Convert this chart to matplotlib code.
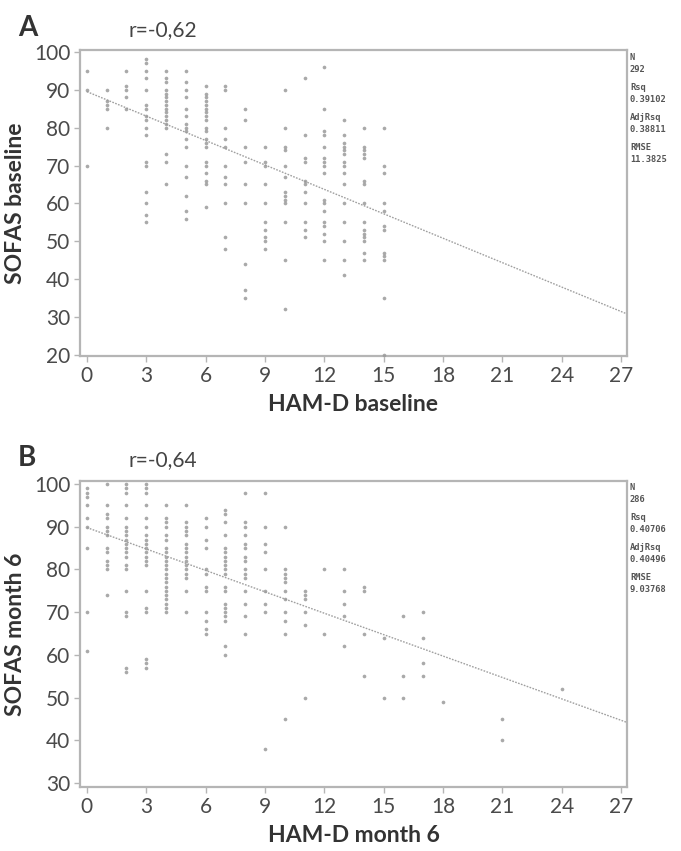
import matplotlib
matplotlib.use("Agg")
import matplotlib.pyplot as plt

# ---- Panel A: HAM-D baseline vs SOFAS baseline ----
ham_a = {
    0: [95, 90, 70],
    1: [90, 87, 86, 85, 80],
    2: [95, 91, 90, 88, 85],
    3: [98, 97, 95, 93, 90, 86, 85, 83, 82, 80, 78, 71, 70, 63, 60, 57, 55],
    4: [95, 93, 92, 90, 89, 88, 87, 86, 85, 84, 83, 82, 81, 80, 73, 71, 65],
    5: [95, 92, 90, 88, 85, 83, 81, 80, 79, 77, 75, 70, 67, 62, 58, 56],
    6: [91, 89, 88, 87, 86, 85, 84, 83, 82, 80, 79, 77, 76, 75, 71, 70, 68, 66, 65, 59],
    7: [91, 90, 80, 77, 75, 70, 67, 65, 60, 51, 48],
    8: [85, 82, 75, 71, 65, 60, 44, 37, 35],
    9: [75, 71, 70, 65, 60, 55, 53, 51, 50, 48],
    10: [90, 80, 75, 74, 70, 67, 63, 62, 61, 60, 55, 45, 32],
    11: [93, 78, 72, 71, 66, 65, 63, 60, 55, 53, 51],
    12: [96, 85, 79, 78, 75, 72, 71, 70, 68, 61, 60, 58, 55, 54, 52, 50, 45],
    13: [82, 78, 76, 75, 74, 73, 71, 70, 68, 65, 60, 55, 50, 45, 41],
    14: [80, 75, 74, 73, 72, 66, 65, 60, 55, 53, 52, 51, 50, 47, 45],
    15: [80, 70, 68, 60, 58, 54, 53, 47, 46, 45, 35, 20],
}
fit_a = (89.5, -2.15)            # intercept, slope
r_a = "r=-0,62"
stats_a = ["N", "292", "Rsq", "0.39102", "AdjRsq", "0.38811", "RMSE", "11.3825"]

# ---- Panel B: HAM-D month 6 vs SOFAS month 6 ----
ham_b = {
    0: [99, 98, 97, 95, 92, 90, 85, 70, 61],
    1: [100, 95, 93, 92, 90, 89, 88, 85, 84, 82, 81, 80, 74],
    2: [100, 99, 98, 95, 92, 90, 89, 88, 87, 86, 85, 84, 83, 81, 80, 75, 70, 69, 57, 56],
    3: [100, 99, 98, 95, 92, 90, 88, 87, 86, 85, 84, 83, 82, 81, 75, 71, 70, 59, 58, 57],
    4: [95, 92, 91, 90, 88, 87, 85, 84, 83, 82, 81, 80, 79, 78, 77, 76, 75, 74, 73, 72, 71, 70],
    5: [95, 91, 90, 89, 88, 86, 85, 84, 83, 82, 81, 80, 79, 78, 75, 70],
    6: [92, 90, 87, 85, 80, 79, 76, 75, 70, 68, 66, 65],
    7: [94, 93, 91, 88, 85, 84, 83, 82, 81, 80, 79, 76, 75, 72, 71, 70, 69, 68, 62, 60],
    8: [98, 91, 90, 88, 86, 85, 83, 82, 80, 79, 78, 75, 72, 69, 65],
    9: [98, 90, 86, 84, 80, 75, 72, 70, 38],
    10: [90, 80, 79, 78, 77, 75, 73, 70, 68, 65, 45],
    11: [75, 74, 73, 70, 67, 50],
    12: [80, 65],
    13: [80, 75, 72, 69, 62],
    14: [76, 75, 65, 55],
    15: [64, 50],
    16: [69, 55, 50],
    17: [70, 64, 58, 55],
    18: [49],
    21: [45, 40],
    24: [52],
}
fit_b = (89.8, -1.67)
r_b = "r=-0,64"
stats_b = ["N", "286", "Rsq", "0.40706", "AdjRsq", "0.40496", "RMSE", "9.03768"]

x_ticks = [0, 3, 6, 9, 12, 15, 18, 21, 24, 27]

plt.rcParams["font.family"] = ["Lato", "DejaVu Sans"]

W, H = 681, 851
fig = plt.figure(figsize=(W / 100, H / 100), dpi=100)
fig.patch.set_facecolor("white")


def px_rect(left, top, right, bottom):
    return [left / W, 1 - bottom / H, (right - left) / W, (bottom - top) / H]


def panel(rect, data, fit, ylim, yticks, xlabel, ylabel, letter, rtext, stats,
          letter_y, stats_top):
    ax = fig.add_axes(px_rect(*rect))
    xs, ys = [], []
    for k, vals in data.items():
        xs += [k] * len(vals)
        ys += vals
    ax.scatter(xs, ys, s=7, marker="o", color="#9a9a9a", linewidths=0,
               alpha=0.85, zorder=3)
    b0, b1 = fit
    ax.plot([0, 27.3], [b0, b0 + b1 * 27.3], color="#a0a0a0", lw=1.0,
            ls=(0, (1.2, 1.0)), zorder=2)
    ax.set_xlim(-0.35, 27.3)
    ax.set_ylim(*ylim)
    ax.set_xticks(x_ticks)
    ax.set_yticks(yticks)
    for s in ax.spines.values():
        s.set_color("#b5b5b5")
        s.set_linewidth(1.6)
    ax.tick_params(axis="both", colors="#b5b5b5", length=4, width=1,
                   labelcolor="#4a4a4a", labelsize=15, pad=3)
    ax.set_xlabel(xlabel, fontsize=16.5, fontweight="bold", color="#333333",
                  labelpad=6)
    ax.set_ylabel(ylabel, fontsize=16.5, fontweight="bold", color="#333333",
                  labelpad=6)
    fig.text(18 / W, 1 - letter_y / H, letter, fontsize=20, fontweight="bold",
             color="#333333", ha="left", va="center")
    fig.text(128 / W, 1 - (letter_y + 2) / H, rtext, fontsize=15,
             color="#444444", ha="left", va="center")
    offs = [0, 12, 30, 42, 60, 72, 90, 102]
    for t, o in zip(stats, offs):
        fig.text(630 / W, 1 - (stats_top + o) / H, t, fontsize=6.3,
                 family="DejaVu Sans Mono", fontweight="bold",
                 color="#555555", ha="left", va="center")
    return ax


panel((80, 50, 627, 356), ham_a, fit_a, (19.7, 100.5),
      [20, 30, 40, 50, 60, 70, 80, 90, 100],
      "HAM-D baseline", "SOFAS baseline", "A", r_a, stats_a, 28, 58)
panel((80, 481, 627, 787), ham_b, fit_b, (29.1, 100.7),
      [30, 40, 50, 60, 70, 80, 90, 100],
      "HAM-D month 6", "SOFAS month 6", "B", r_b, stats_b, 458, 488)

fig.savefig("out.png", dpi=100, facecolor="white")
